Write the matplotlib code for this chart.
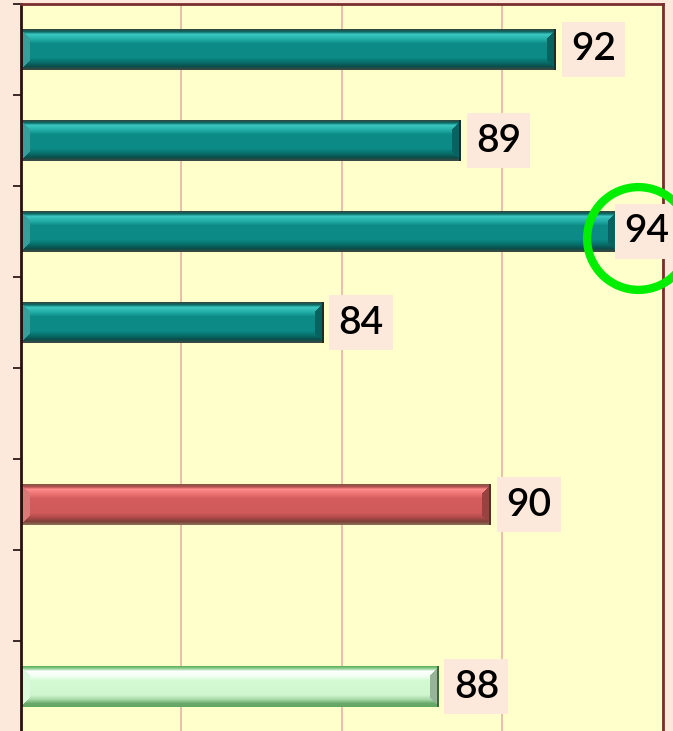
import numpy as np
import matplotlib
matplotlib.use("Agg")
import matplotlib.pyplot as plt
from matplotlib.colors import to_rgb

# values (slots 4 and 6 are empty)
values = [91.65, 88.69, 93.55, 84.41, None, 89.63, None, 88.0]
kinds = ["teal", "teal", "teal", "teal", None, "red", None, "green"]
labels = [None if v is None else str(int(round(v))) for v in values]
highlight_slot = 2

xmin, xmax = 75, 95
grid_x = [80, 85, 90, 95]

# vertical colour stops of the glossy bars: (position, colour)
profiles = {
    "teal": [(0.0, "#2f4a42"), (0.06, "#0a6a66"), (0.12, "#3cc8c0"), (0.25, "#22aca6"),
             (0.36, "#0b8a86"), (0.70, "#0b8a86"), (0.82, "#086e6a"), (0.92, "#0a4e4a"),
             (1.0, "#3a4a42")],
    "red": [(0.0, "#8a5545"), (0.06, "#b05050"), (0.12, "#ff8c8c"), (0.25, "#ec7272"),
            (0.36, "#d45c5c"), (0.70, "#d05a5a"), (0.82, "#b04a4a"), (0.92, "#7e4036"),
            (1.0, "#8a6a55")],
    "green": [(0.0, "#62b062"), (0.06, "#9ad69a"), (0.12, "#ffffff"), (0.25, "#f0fff0"),
              (0.36, "#d4fad4"), (0.70, "#d0f6d0"), (0.82, "#a8d8a8"), (0.92, "#6aa86a"),
              (1.0, "#62a862")],
}

W, H, DPI = 673, 731, 100
fig = plt.figure(figsize=(W / DPI, H / DPI), dpi=DPI, facecolor="#fde9dc")
left, right = 20.5 / W, 662.5 / W
top, bottom = 1 - 4 / H, 1 - 732 / H
ax = fig.add_axes([left, bottom, right - left, top - bottom])
ax.set_facecolor("#ffffcc")
ax.set_xlim(xmin, xmax)
ax.set_ylim(len(values) - 0.5, -0.5)

px_per_unit = (right - left) * W / (xmax - xmin)
bar_h = 0.44
bar_px = int(round(bar_h * (top - bottom) * H / len(values)))


def bar_image(kind, n_cols, n_rows, bevel=9):
    stops = profiles[kind]
    pos = [p for p, _ in stops]
    cols = np.array([to_rgb(c) for _, c in stops])
    t = np.linspace(0, 1, n_rows)
    prof = np.stack([np.interp(t, pos, cols[:, k]) for k in range(3)], axis=1)
    img = np.repeat(prof[:, None, :], n_cols, axis=1)
    base = np.array(to_rgb(stops[4][1]))
    rows = np.arange(n_rows)[:, None]
    colsi = np.arange(n_cols)[None, :]
    dt, db = rows, n_rows - 1 - rows
    dl, dr = colsi, n_cols - 1 - colsi
    vert = np.minimum(dt, db)
    lmask = (dl < vert) & (dl < bevel) & (dl > 1)
    rmask = (dr < vert) & (dr < bevel) & (dr > 1)
    light = base + (1 - base) * 0.18
    dark = base * 0.72
    img[lmask] = light
    img[rmask] = dark
    edge = np.array(to_rgb(stops[0][1]))
    img[:, :2] = edge * 0.6
    img[:, -2:] = edge * 0.6
    return np.clip(img, 0, 1)


for i, (v, kind) in enumerate(zip(values, kinds)):
    if v is None:
        continue
    n_cols = max(int(round((v - xmin) * px_per_unit)), 4)
    img = bar_image(kind, n_cols, bar_px)
    ax.imshow(img, extent=(xmin, v, i + bar_h / 2, i - bar_h / 2),
              aspect="auto", interpolation="nearest", zorder=2)
    # the label of the top value sits tight against its bar to stay inside the picture
    off = 8 if i == highlight_slot else 16
    ax.annotate(labels[i], xy=(v, i), xytext=(off, 0), textcoords="offset pixels",
                ha="left", va="center", fontsize=28, fontweight="semibold",
                family=["Lato", "DejaVu Sans"],
                color="black", zorder=4, annotation_clip=False,
                bbox=dict(boxstyle="square,pad=0.24", fc="#fde8dc", ec="none"))

# green ring around the highest value
hv = values[highlight_slot]
ax.plot([hv + 0.68], [highlight_slot + 0.07], marker="o", markersize=74,
        markerfacecolor="none", markeredgecolor="#00ee00", markeredgewidth=6,
        clip_on=False, zorder=5)

ax.set_xticks(grid_x)
ax.set_xticklabels([])
ax.xaxis.grid(True, color="#e4b4a6", linewidth=1.2)
ax.tick_params(axis="x", length=0)
ax.set_axisbelow(True)
ax.set_yticks(np.arange(-0.5, len(values), 1.0))
ax.set_yticklabels([])
ax.tick_params(axis="y", direction="out", length=5.5, width=1.3, color="#2a1a1a")

for side in ["top", "right"]:
    ax.spines[side].set_color("#7a2e2e")
    ax.spines[side].set_linewidth(2)
ax.spines["left"].set_color("#2a1010")
ax.spines["left"].set_linewidth(2)
ax.spines["bottom"].set_visible(False)

fig.savefig("out.png", dpi=DPI, facecolor=fig.get_facecolor())
